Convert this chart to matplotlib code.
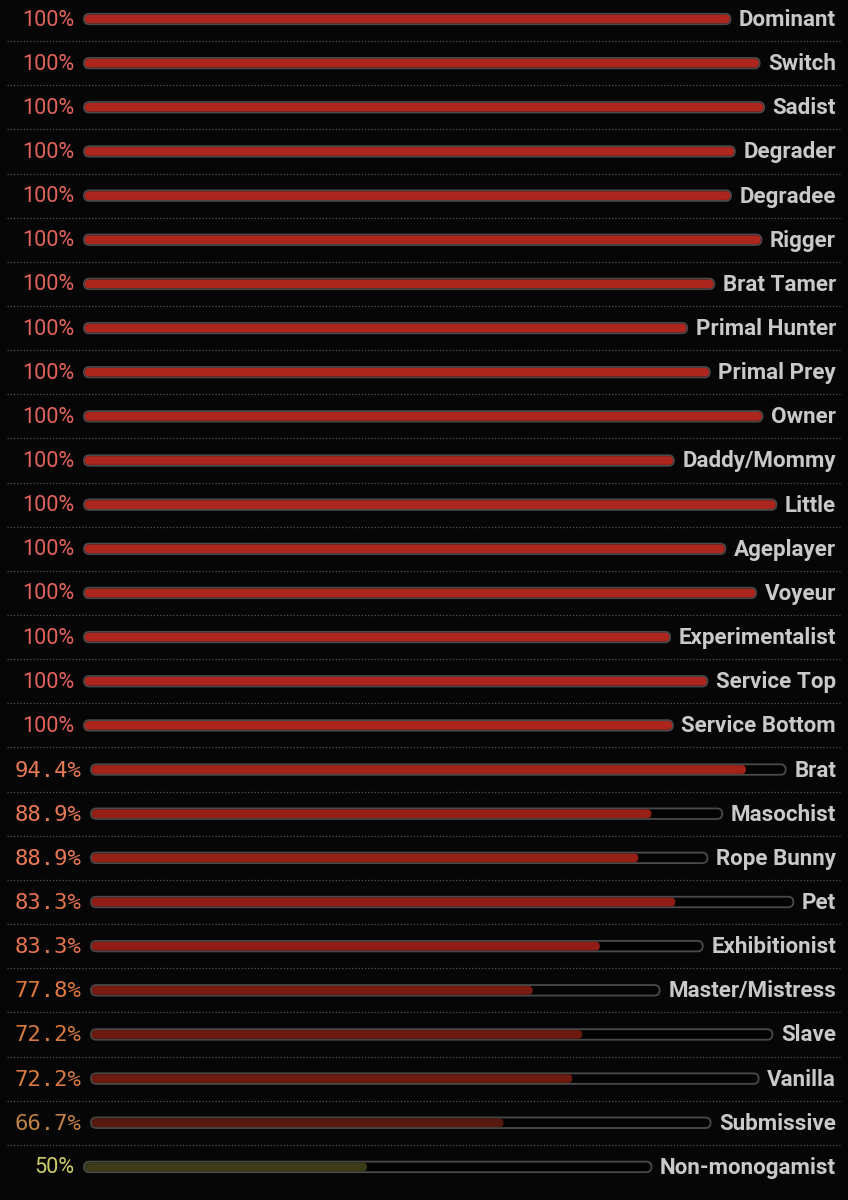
import matplotlib
matplotlib.use("Agg")
import matplotlib.pyplot as plt
from matplotlib.patches import FancyBboxPatch

names = ["Dominant", "Switch", "Sadist", "Degrader", "Degradee", "Rigger", "Brat Tamer",
         "Primal Hunter", "Primal Prey", "Owner", "Daddy/Mommy", "Little", "Ageplayer",
         "Voyeur", "Experimentalist", "Service Top", "Service Bottom", "Brat", "Masochist",
         "Rope Bunny", "Pet", "Exhibitionist", "Master/Mistress", "Slave", "Vanilla",
         "Submissive", "Non-monogamist"]
values = [100, 100, 100, 100, 100, 100, 100, 100, 100, 100, 100, 100, 100, 100, 100, 100, 100,
          94.4, 88.9, 88.9, 83.3, 83.3, 77.8, 72.2, 72.2, 66.7, 50]


def pct_text(v):
    return "%d%%" % v if float(v).is_integer() else "%.1f%%" % v


def fill_color(v):
    if v >= 99.9:
        return "#ad261e"
    if v >= 90:
        return "#a42219"
    if v >= 85:
        return "#961f16"
    if v >= 80:
        return "#901d15"
    if v >= 75:
        return "#781a12"
    if v >= 70:
        return "#6c1910"
    if v >= 60:
        return "#55190d"
    return "#3c3b18"


def label_color(v):
    if v >= 99.9:
        return "#e2625c"
    if v >= 85:
        return "#ea7a55"
    if v >= 80:
        return "#e6744e"
    if v >= 75:
        return "#e0783e"
    if v >= 70:
        return "#d87a40"
    if v >= 60:
        return "#c28248"
    return "#cccc6a"


W, H = 848, 1200
BG = "#060606"
fig = plt.figure(figsize=(W / 100, H / 100), dpi=100, facecolor=BG)
ax = fig.add_axes([0, 0, 1, 1])
ax.set_xlim(0, W)
ax.set_ylim(H, 0)
ax.axis("off")
ax.set_facecolor(BG)

row0 = 19.0
step = 44.15
name_right = 836
bar_h = 10.5
gap = 8.5

fig.canvas.draw()
renderer = fig.canvas.get_renderer()
inv = ax.transData.inverted()

for i, (nm, v) in enumerate(zip(names, values)):
    yc = row0 + i * step
    is_int = float(v).is_integer()
    if is_int:
        pr = 74
        ax.text(pr, yc + 1, pct_text(v), ha="right", va="center", color=label_color(v),
                fontsize=15.6, family="Roboto")
    else:
        pr = 81
        ax.text(pr, yc + 1, pct_text(v), ha="right", va="center", color=label_color(v),
                fontsize=16.0, family="DejaVu Sans Mono")
    x0 = pr + 10
    t = ax.text(name_right, yc + 1, nm, ha="right", va="center", color="#c9c9c9",
                fontsize=16.1, family="Roboto", weight="bold")
    bb = t.get_window_extent(renderer=renderer)
    xl = inv.transform((bb.x0, bb.y0))[0]
    x1 = xl - gap
    L = x1 - x0
    r = bar_h / 2
    track = FancyBboxPatch((x0, yc - bar_h / 2), L, bar_h,
                           boxstyle="round,pad=0,rounding_size=%f" % r,
                           facecolor="#030303", edgecolor="#4a4a4a", linewidth=1.3, zorder=2)
    ax.add_patch(track)
    fw = L * v / 100.0
    fill = FancyBboxPatch((x0 + 0.8, yc - bar_h / 2 + 0.9), fw - 1.6, bar_h - 1.8,
                          boxstyle="round,pad=0,rounding_size=%f" % (r - 1),
                          facecolor=fill_color(v), edgecolor="none", zorder=3)
    ax.add_patch(fill)
    if i < len(names) - 1:
        ys = yc + step / 2
        ax.plot([7, 840], [ys, ys], color="#555555", linewidth=0.9,
                linestyle=(0, (1, 1.6)), zorder=1)

fig.savefig("out.png", dpi=100, facecolor=fig.get_facecolor())
